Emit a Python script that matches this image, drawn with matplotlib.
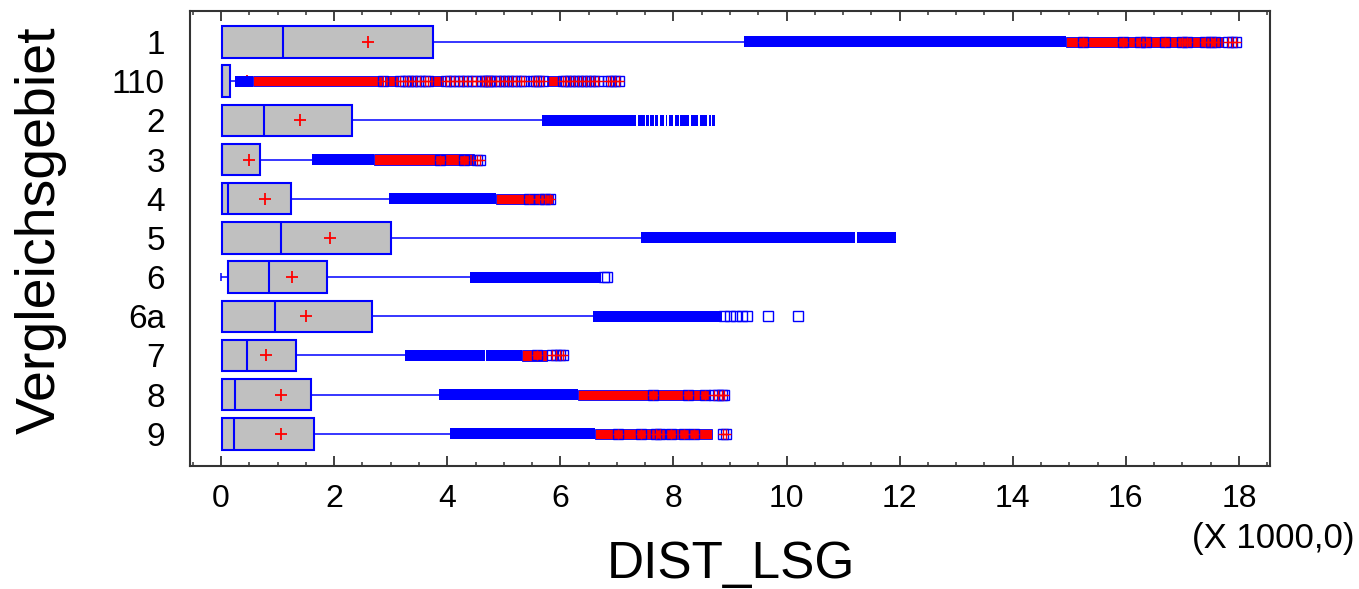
import matplotlib
matplotlib.use("Agg")
import matplotlib.pyplot as plt
from matplotlib.ticker import MultipleLocator

plt.rcParams['font.family'] = ['Liberation Sans', 'DejaVu Sans']

# groups, top to bottom
cats = ['1', '110', '2', '3', '4', '5', '6', '6a', '7', '8', '9']

# box statistics (x 1000)
q1 = [0.01, 0.01, 0.01, 0.01, 0.01, 0.01, 0.12, 0.01, 0.01, 0.01, 0.01]
med = [1.09, 0.01, 0.75, 0.01, 0.12, 1.06, 0.84, 0.95, 0.45, 0.25, 0.22]
q3 = [3.75, 0.15, 2.31, 0.68, 1.23, 3.01, 1.87, 2.67, 1.33, 1.59, 1.65]
mean = [2.59, 0.45, 1.40, 0.50, 0.78, 1.92, 1.25, 1.50, 0.80, 1.06, 1.06]
wlo = [0.01, 0.01, 0.01, 0.01, 0.01, 0.01, 0.0, 0.01, 0.01, 0.01, 0.01]
whi = [9.25, 0.25, 5.68, 1.60, 2.97, 7.43, 4.40, 6.57, 3.25, 3.85, 4.05]

# dense runs of outside points (blue) and far outside points (red), as (from, to)
out_runs = [
    [(9.25, 14.95)],
    [(0.25, 0.56)],
    [(5.68, 7.34), (7.365, 7.49), (7.515, 7.56), (7.585, 7.65), (7.675, 7.73), (7.755, 7.84),
     (7.865, 7.89), (7.915, 8.0), (8.025, 8.09), (8.115, 8.28), (8.305, 8.44), (8.465, 8.60),
     (8.625, 8.66), (8.685, 8.73)],
    [(1.60, 2.71)],
    [(2.97, 4.87)],
    [(7.43, 11.215), (11.245, 11.93)],
    [(4.40, 6.72)],
    [(6.57, 8.85)],
    [(3.25, 4.66), (4.685, 5.32)],
    [(3.85, 6.32)],
    [(4.05, 6.61)],
]
far_runs = [
    [(14.95, 17.72)],
    [(0.56, 2.85), (2.90, 3.13), (3.70, 3.93), (5.76, 5.99)],
    [],
    [(2.71, 4.47)],
    [(4.87, 5.87)],
    [],
    [],
    [],
    [(5.32, 5.76)],
    [(6.32, 8.62)],
    [(6.61, 8.68)],
]
# single points that stand apart from the runs
out_pts = [
    [], [], [], [], [], [],
    [6.77, 6.83],
    [8.9, 9.0, 9.1, 9.22, 9.3, 9.67, 10.2],
    [], [], [],
]
far_pts = [
    [15.25, 15.95, 16.25, 16.35, 16.7, 17.0, 17.08, 17.4, 17.5, 17.58, 17.8, 17.87, 17.95],
    [2.87, 3.17, 3.25, 3.3, 3.38, 3.45, 3.52, 3.6, 3.66, 3.98, 4.05, 4.12, 4.2, 4.28,
     4.35, 4.43, 4.5, 4.62, 4.66, 4.7, 4.74, 4.77, 4.86, 4.93, 5.0, 5.07, 5.15, 5.22,
     5.3, 5.36, 5.51, 5.57, 5.63, 5.7, 6.04, 6.1, 6.17, 6.24, 6.31, 6.38, 6.45, 6.52,
     6.6, 6.66, 6.84, 6.9, 6.97, 7.03],
    [],
    [3.87, 4.30, 4.52, 4.57],
    [5.45, 5.62, 5.73, 5.82],
    [],
    [],
    [],
    [5.58, 5.85, 5.93, 6.0, 6.04],
    [7.63, 8.26, 8.55, 8.72, 8.79, 8.85, 8.9],
    [7.02, 7.42, 7.7, 7.76, 7.95, 8.18, 8.36, 8.88, 8.93],
]

BLUE = '#0000FF'
RED = '#FF0000'
GRAY = '#C0C0C0'

fig = plt.figure(figsize=(13.59, 5.89), dpi=100)
ax = fig.add_axes([190 / 1359, 1 - 466 / 589, 1080 / 1359, 455 / 589])

ys = list(range(len(cats)))
box_h = 0.8
band_h = 0.28

for i, y in enumerate(ys):
    # whiskers
    ax.hlines(y, q3[i], whi[i], color=BLUE, lw=1.1, zorder=2)
    if wlo[i] < q1[i]:
        ax.hlines(y, wlo[i], q1[i], color=BLUE, lw=1.1, zorder=2)
        ax.vlines(wlo[i], y - 0.1, y + 0.1, color=BLUE, lw=1.1, zorder=2)
    # box and median
    ax.barh(y, q3[i] - q1[i], left=q1[i], height=box_h, color=GRAY,
            edgecolor=BLUE, linewidth=1.5, zorder=3)
    ax.vlines(med[i], y - box_h / 2, y + box_h / 2, color=BLUE, lw=1.5, zorder=4)
    ax.plot(mean[i], y, '+', color=RED, ms=8, mew=1.3, zorder=4)

    # outliers
    for lo, hi in out_runs[i]:
        ax.barh(y, hi - lo, left=lo, height=band_h, color=BLUE,
                linewidth=0, zorder=5)
    for lo, hi in far_runs[i]:
        ax.barh(y, hi - lo, left=lo, height=band_h - 0.02, color=RED,
                edgecolor=BLUE, linewidth=0.6, zorder=5)
    if out_pts[i]:
        ax.plot(out_pts[i], [y] * len(out_pts[i]), 's', ms=7.2, mfc='none',
                mec=BLUE, mew=1.0, zorder=6)
    if far_pts[i]:
        ax.plot(far_pts[i], [y] * len(far_pts[i]), 's', ms=7.2, mfc='none',
                mec=BLUE, mew=1.0, zorder=6)
        ax.plot(far_pts[i], [y] * len(far_pts[i]), '+', color=RED, ms=7.6,
                mew=1.0, zorder=7)

ax.set_xlim(-0.55, 18.55)
ax.set_ylim(len(cats) - 1 + 0.82, -0.79)
ax.set_yticks(ys)
ax.set_yticklabels(cats)
ax.set_xticks(range(0, 19, 2))
ax.xaxis.set_minor_locator(MultipleLocator(0.5))

ax.tick_params(axis='x', which='both', direction='in', top=True, bottom=True,
               labelsize=23, pad=13, color='#333333')
ax.tick_params(axis='x', which='major', length=7, width=1.3)
ax.tick_params(axis='x', which='minor', length=3, width=1.1)
ax.tick_params(axis='y', length=0, labelsize=24, pad=18)

for s in ax.spines.values():
    s.set_linewidth(1.5)
    s.set_color('#333333')

fig.text(55 / 1359, 1 - 230 / 589, 'Vergleichsgebiet', rotation=90,
         rotation_mode='anchor', ha='center', va='baseline', fontsize=40)
fig.text(731 / 1359, 1 - 578 / 589, 'DIST_LSG', ha='center', va='baseline',
         fontsize=37)
fig.text(1355 / 1359, 1 - 548 / 589, '(X 1000,0)', ha='right', va='baseline',
         fontsize=25)

fig.savefig('out.png', dpi=100)
